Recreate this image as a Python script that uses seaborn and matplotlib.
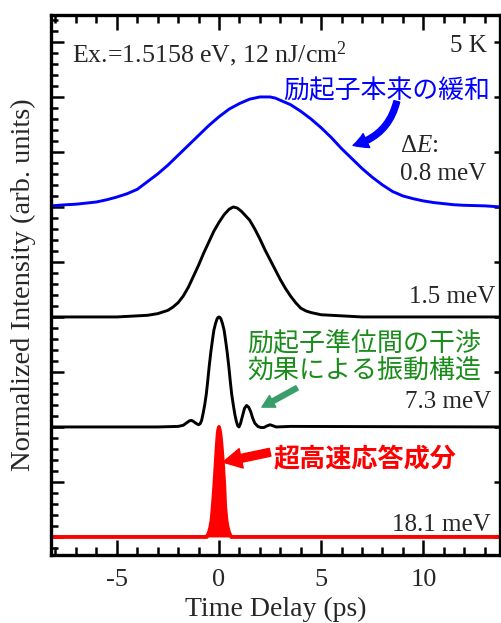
import matplotlib
matplotlib.use("Agg")
import matplotlib.pyplot as plt
import pandas as pd
import seaborn as sns
from matplotlib.ticker import FixedLocator, FixedFormatter, NullFormatter, MultipleLocator, NullLocator

# ---------------- data ----------------
trace_labels = ["0.8 meV", "1.5 meV", "7.3 meV", "18.1 meV"]
trace_colors = ["#0000ff", "#000000", "#000000", "#ff0000"]

# ΔE = 0.8 meV (blue)
t_08 = [-8.2, -7.5, -7, -6.5, -6, -5.5, -5, -4.5, -4, -3.5, -3, -2.5, -2, -1.5, -1, -0.5,
        0, 0.5, 1, 1.5, 1.75, 2, 2.25, 2.5, 2.75, 3, 3.5, 4, 4.5, 5, 5.5, 6, 6.5, 7, 7.5,
        8, 8.5, 9, 9.5, 10, 10.5, 11, 11.5, 12, 13, 13.8]
i_08 = [0.01, 0.02, 0.025, 0.035, 0.045, 0.065, 0.09, 0.12, 0.16, 0.23, 0.30, 0.38, 0.47,
        0.56, 0.65, 0.74, 0.82, 0.89, 0.94, 0.98, 0.99, 1.0, 1.0, 1.0, 0.99, 0.97, 0.93,
        0.87, 0.80, 0.72, 0.63, 0.53, 0.44, 0.35, 0.27, 0.20, 0.14, 0.10, 0.075, 0.055,
        0.04, 0.03, 0.02, 0.015, 0.01, 0.0]

# ΔE = 1.5 meV
t_15 = [-8.2, -5, -4.5, -4, -3.5, -3, -2.75, -2.5, -2.25, -2, -1.75, -1.5, -1.25, -1,
        -0.75, -0.5, -0.25, 0, 0.25, 0.5, 0.7, 0.9, 1.1, 1.3, 1.5, 1.75, 2, 2.25, 2.5,
        2.75, 3, 3.25, 3.5, 3.75, 4, 4.25, 4.5, 5, 6, 7, 13.8]
i_15 = [0.0, 0.0, 0.005, 0.01, 0.015, 0.03, 0.045, 0.06, 0.09, 0.13, 0.19, 0.27, 0.37,
        0.47, 0.58, 0.68, 0.78, 0.86, 0.93, 0.98, 1.0, 0.99, 0.96, 0.92, 0.88, 0.80, 0.71,
        0.61, 0.52, 0.43, 0.34, 0.26, 0.19, 0.13, 0.08, 0.055, 0.04, 0.02, 0.01, 0.0, 0.0]

# ΔE = 7.3 meV
t_73 = [-8.2, -3, -2, -1.75, -1.6, -1.45, -1.35, -1.25, -1.1, -1.0, -0.92, -0.85, -0.78,
        -0.7, -0.62, -0.55, -0.48, -0.4, -0.32, -0.25, -0.17, -0.1, -0.05, 0.0, 0.05, 0.1,
        0.17, 0.25, 0.32, 0.4, 0.48, 0.55, 0.62, 0.7, 0.78, 0.85, 0.92, 0.98, 1.05, 1.15,
        1.25, 1.35, 1.45, 1.55, 1.65, 1.75, 1.9, 2.05, 2.2, 2.35, 2.5, 2.65, 2.8, 3.5, 13.8]
i_73 = [0.0, 0.0, 0.005, 0.015, 0.035, 0.055, 0.06, 0.05, 0.03, 0.02, 0.03, 0.06, 0.12,
        0.2, 0.3, 0.42, 0.55, 0.68, 0.79, 0.88, 0.94, 0.98, 0.995, 1.0, 0.995, 0.98, 0.94,
        0.88, 0.79, 0.68, 0.55, 0.42, 0.3, 0.2, 0.11, 0.05, 0.01, 0.0, 0.03, 0.1, 0.17,
        0.195, 0.18, 0.14, 0.08, 0.035, 0.005, -0.005, -0.005, 0.01, 0.02, 0.01, 0.0,
        0.005, 0.0]

# ΔE = 18.1 meV (red, filled)
t_181 = [-8.2, -0.6, -0.5, -0.42, -0.36, -0.3, -0.23, -0.15, -0.11, -0.07, -0.04, 0.0,
         0.04, 0.08, 0.13, 0.18, 0.26, 0.3, 0.36, 0.42, 0.5, 0.6, 13.8]
i_181 = [0.0, 0.0, 0.035, 0.09, 0.155, 0.28, 0.46, 0.70, 0.82, 0.92, 0.97, 1.0, 0.97,
         0.92, 0.82, 0.70, 0.46, 0.28, 0.155, 0.09, 0.035, 0.0, 0.0]

x_ticks = [-5, 0, 5, 10]
x_tick_labels = ["-5", "0", "5", "10"]

# ---------------- style ----------------
sns.set_style("ticks")
plt.rcParams["font.family"] = ["Liberation Serif", "Noto Sans CJK JP"]
plt.rcParams["mathtext.fontset"] = "custom"
plt.rcParams["mathtext.rm"] = "Liberation Serif"
plt.rcParams["mathtext.it"] = "Liberation Serif:italic"
JP = ["Noto Sans CJK JP", "DejaVu Sans"]

fig = plt.figure(figsize=(5.01, 6.23), dpi=100)
ax = fig.add_axes([51 / 501, 68 / 623, 449 / 501, 540 / 623])

offsets = [3, 2, 1, 0]
traces = [(t_08, i_08), (t_15, i_15), (t_73, i_73), (t_181, i_181)]
for (t, v), off, col, lab in zip(traces, offsets, trace_colors, trace_labels):
    df = pd.DataFrame({"t": t, "v": [a + off for a in v]})
    if lab == "18.1 meV":
        ax.fill_between(df["t"], off, df["v"], color=col, lw=0)
        sns.lineplot(data=df, x="t", y="v", ax=ax, color=col, lw=2.8,
                     estimator=None, sort=False, legend=False)
    else:
        sns.lineplot(data=df, x="t", y="v", ax=ax, color=col, lw=2.1,
                     estimator=None, sort=False, legend=False)

ax.set_xlim(-8.22, 13.75)
ax.set_ylim(-0.164, 4.745)

ax.xaxis.set_major_locator(FixedLocator(x_ticks))
ax.xaxis.set_major_formatter(FixedFormatter(x_tick_labels))
ax.xaxis.set_minor_locator(NullLocator())
ax.yaxis.set_major_locator(MultipleLocator(0.5))
ax.yaxis.set_minor_locator(NullLocator())
ax.yaxis.set_major_formatter(NullFormatter())

ax.tick_params(axis="x", which="major", direction="in", top=True, bottom=True,
               length=11, width=1.8, labelsize=19, pad=10, color="black")
ax.tick_params(axis="y", which="major", direction="in", left=True, right=True,
               length=9.5, width=1.8, color="black")

# short (unlabelled) marks: every 1 ps on top/bottom, every 0.1 on the left
x_minor = [p for p in range(-8, 14) if p not in x_ticks]
y_all = [round(-0.1 + 0.1 * k, 1) for k in range(49)]
y_minor = [p for p in y_all if abs(p * 2 - round(p * 2)) > 1e-6]
xt = ax.get_xaxis_transform()
yt = ax.get_yaxis_transform()
ax.vlines(x_minor, 0, 0.0141, transform=xt, colors="black", lw=1.8, zorder=6, clip_on=False)
ax.vlines(x_minor, 1 - 0.0141, 1, transform=xt, colors="black", lw=1.8, zorder=6, clip_on=False)
ax.hlines(y_minor, 0, 0.0155, transform=yt, colors="black", lw=1.8, zorder=6, clip_on=False)

for s in ax.spines.values():
    s.set_visible(True)
    s.set_linewidth(2.4)
    s.set_color("black")
    s.set_zorder(7)

ax.set_xlabel("Time Delay (ps)", fontsize=20, labelpad=4.5)
ax.set_ylabel("Normalized Intensity (arb. units)", fontsize=20.5, labelpad=7)

# ---------------- annotations ----------------
ax.text(-7.19, 4.31, "Ex.=1.5158 eV, 12 nJ/cm$^2$", fontsize=18.6, ha="left", va="baseline")
ax.text(13.11, 4.41, "5 K", fontsize=18, ha="right", va="baseline")
ax.text(3.13, 4.06, "励起子本来の緩和", fontsize=18.6, color="#0000ff", ha="left",
        va="center", family=JP)
ax.text(8.86, 3.50, "Δ$E$:", fontsize=18, ha="left", va="baseline")
ax.text(8.86, 3.245, trace_labels[0], fontsize=18, ha="left", va="baseline")
ax.text(13.5, 2.125, trace_labels[1], fontsize=18, ha="right", va="baseline")
ax.text(13.3, 1.17, trace_labels[2], fontsize=18, ha="right", va="baseline")
ax.text(13.3, 0.055, trace_labels[3], fontsize=18, ha="right", va="baseline")
ax.text(1.37, 1.77, "励起子準位間の干渉", fontsize=18.7, color="#1a8c1a", ha="left",
        va="center", family=JP)
ax.text(1.37, 1.52, "効果による振動構造", fontsize=18.7, color="#1a8c1a", ha="left",
        va="center", family=JP)
ax.text(2.69, 0.70, "超高速応答成分", fontsize=18.8, color="#ff0000", ha="left",
        va="center", family=JP, fontweight="bold")

ax.annotate("", xy=(6.56, 3.56), xytext=(8.7, 3.96),
            arrowprops=dict(arrowstyle="simple,head_length=0.6,head_width=0.65,tail_width=0.25",
                            color="#0000ff", connectionstyle="arc3,rad=-0.3",
                            mutation_scale=17, shrinkA=0, shrinkB=0))
ax.annotate("", xy=(2.10, 1.18), xytext=(3.82, 1.355),
            arrowprops=dict(arrowstyle="simple,head_length=0.55,head_width=0.6,tail_width=0.22",
                            color="#3a9e6a", mutation_scale=16, shrinkA=0, shrinkB=0))
ax.annotate("", xy=(0.2, 0.68), xytext=(2.5, 0.77),
            arrowprops=dict(arrowstyle="simple,head_length=0.7,head_width=0.75,tail_width=0.3",
                            color="#ff0000", mutation_scale=19, shrinkA=0, shrinkB=0))

# shorter marks on the right-hand side
fig.canvas.draw()
for tk in ax.yaxis.get_major_ticks():
    tk.tick2line.set_markersize(4)

fig.savefig("out.png", dpi=100)
